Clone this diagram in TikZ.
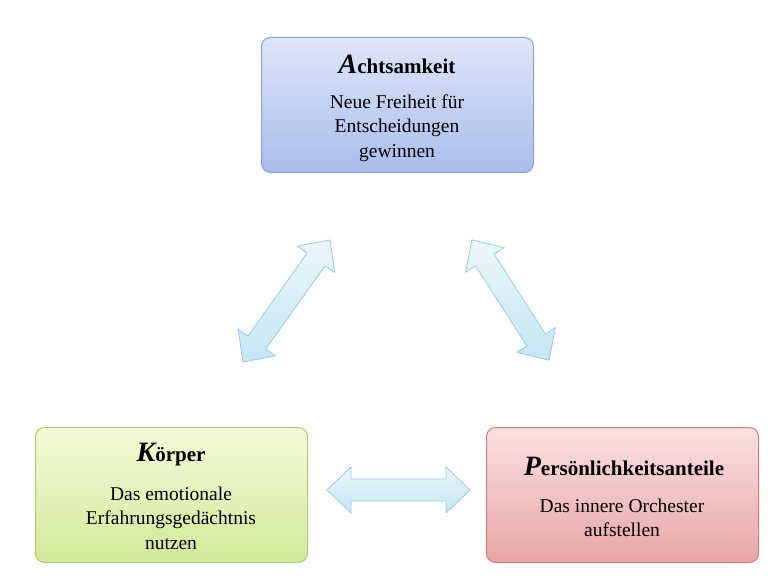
\documentclass[tikz,border=0pt]{standalone}
\usepackage{fontspec}
\setmainfont{Liberation Serif}
\definecolor{bT}{HTML}{DDE6FA}\definecolor{bB}{HTML}{A9BDEB}\definecolor{bD}{HTML}{8CA2D4}
\definecolor{gT}{HTML}{F4FAD8}\definecolor{gB}{HTML}{D3E99A}\definecolor{gD}{HTML}{AFC878}
\definecolor{rT}{HTML}{FBE0E0}\definecolor{rB}{HTML}{E8A6A6}\definecolor{rD}{HTML}{C98080}
\definecolor{aT}{HTML}{EAF6FB}\definecolor{aB}{HTML}{C5E6F4}\definecolor{aD}{HTML}{9ACBE0}
\tikzset{
  box/.style={draw, line width=1pt, rounded corners=9pt, minimum width=272pt, minimum height=135pt, anchor=north west},
  blueb/.style={box, draw=bD, top color=bT, bottom color=bB},
  greenb/.style={box, draw=gD, top color=gT, bottom color=gB},
  redb/.style={box, draw=rD, top color=rT, bottom color=rB},
  fat/.style={draw=aD, line width=0.8pt, top color=aT, bottom color=aB, line join=round},
  ttl/.style={font=\fontsize{21}{24}\selectfont\bfseries},
  bdy/.style={font=\fontsize{19.5}{24.5}\selectfont, align=center}
}
\newcommand{\BigL}[1]{{\fontsize{28}{28}\selectfont\itshape #1}}
\newcommand{\dbl}[5]{%
  \begin{scope}[shift={(#1,#2)}, rotate=#3]
    \path[fat] (-#4/2,0) -- (-#4/2+24,23) -- (-#4/2+24,11) -- (#4/2-24,11) -- (#4/2-24,23)
      -- (#4/2,0) -- (#4/2-24,-23) -- (#4/2-24,-11) -- (-#4/2+24,-11) -- (-#4/2+24,-23) -- cycle;
    \coordinate (#5) at (0,0);
  \end{scope}}
\begin{document}
\begin{tikzpicture}[x=1pt,y=-1pt]
\useasboundingbox (0,0) rectangle (780,586);
\node[blueb] (A) at (261,37) {};
\node[greenb] (K) at (35,427) {};
\node[redb] (P) at (486,427) {};
\node[ttl] (At) at (397,64) {\BigL{A}chtsamkeit};
\node[bdy] (Ab) at (397,128) {Neue Freiheit für\\Entscheidungen\\gewinnen};
\node[ttl] (Kt) at (171,455) {\BigL{K}örper};
\node[bdy] (Kb) at (171,518) {Das emotionale\\Erfahrungsgedächtnis\\nutzen};
\node[ttl] (Pt) at (624,466) {\BigL{P}ersönlichkeitsanteile};
\node[bdy] (Pb) at (622,518) {Das innere Orchester\\aufstellen};
\dbl{286.5}{301}{54.5}{150}{a1}
\dbl{510.5}{300}{122.7}{143}{a2}
\dbl{398.5}{490}{0}{143}{a3}
\end{tikzpicture}
\end{document}
